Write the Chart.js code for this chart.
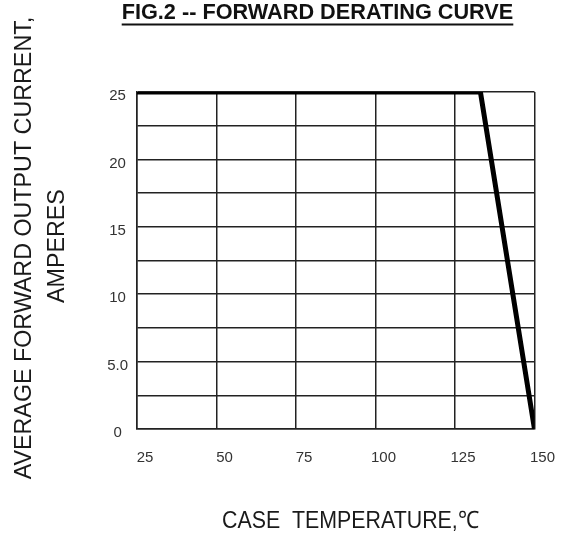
<!DOCTYPE html>
<html>
<head>
<meta charset="utf-8">
<title>Forward Derating Curve</title>
<script src="https://cdn.jsdelivr.net/npm/chart.js@4/dist/chart.umd.min.js"></script>
<style>
    body { margin: 0; background: #fff; }
    canvas { display: block; }
</style>
</head>
<body>
<canvas id="grafico" width="567" height="533"></canvas>
<script>
// Dados
const caseTemp = [25, 133, 150];
const outputCurrent = [25, 25, 0];
const xTicks = [25, 50, 75, 100, 125, 150];
const yTicks = [0, 5, 10, 15, 20, 25];

const titleText = 'FIG.2 -- FORWARD DERATING CURVE';
const yTitle = ['AVERAGE FORWARD OUTPUT CURRENT,', 'AMPERES'];
const xTitle = 'CASE  TEMPERATURE,\u2103';

const sans = "'Liberation Sans', Arial, sans-serif";

document.addEventListener('DOMContentLoaded', () => {
    // Títulos desenhados à mão (sublinhado, fonte estreita, posição fora do centro)
    const titlesPlugin = {
        id: 'titles',
        afterDraw(chart) {
            const ctx = chart.ctx;
            ctx.save();
            ctx.fillStyle = '#111';

            // título principal sublinhado
            ctx.font = 'bold 21.7px ' + sans;
            ctx.textAlign = 'center';
            ctx.textBaseline = 'alphabetic';
            ctx.fillText(titleText, 317.5, 18.5);
            const w = ctx.measureText(titleText).width;
            ctx.fillRect(317.5 - w / 2, 23.5, w, 2);

            // eixo x (levemente comprimido)
            ctx.fillStyle = '#1a1a1a';
            ctx.font = '24px ' + sans;
            ctx.textAlign = 'left';
            ctx.save();
            ctx.translate(222, 528);
            ctx.scale(0.89, 1);
            ctx.fillText(xTitle, 0, 0);
            ctx.restore();

            // eixo y (rotacionado)
            ctx.textAlign = 'center';
            ctx.textBaseline = 'middle';
            ctx.translate(24, 248);
            ctx.rotate(-Math.PI / 2);
            ctx.scale(0.97, 1);
            ctx.fillText(yTitle[0], 0, 0);
            ctx.fillText(yTitle[1], 2, 33);
            ctx.restore();
        }
    };

    new Chart(document.getElementById('grafico'), {
        type: 'line',
        data: {
            datasets: [{
                data: caseTemp.map((t, i) => ({ x: t, y: outputCurrent[i] })),
                borderColor: '#000',
                borderWidth: 5,
                borderJoinStyle: 'miter',
                pointRadius: 0,
                tension: 0,
                fill: false
            }]
        },
        options: {
            responsive: false,
            devicePixelRatio: 1,
            animation: false,
            layout: { padding: { top: 92, left: 0, right: 31, bottom: 0 } },
            plugins: {
                legend: { display: false },
                tooltip: { enabled: false },
                title: { display: false }
            },
            scales: {
                x: {
                    type: 'linear',
                    min: 25,
                    max: 150,
                    afterBuildTicks: s => { s.ticks = xTicks.map(v => ({ value: v })); },
                    afterFit: s => { s.height = 104; },
                    grid: { color: '#222', lineWidth: 1.5, drawTicks: false },
                    border: { color: '#222', width: 1.5 },
                    ticks: {
                        font: { family: sans, size: 15 },
                        color: '#333',
                        padding: 20,
                        labelOffset: 8,
                        maxRotation: 0
                    }
                },
                y: {
                    type: 'linear',
                    min: 0,
                    max: 25,
                    ticks: {
                        stepSize: 2.5,
                        font: { family: sans, size: 15 },
                        color: '#333',
                        padding: 9,
                        crossAlign: 'center',
                        labelOffset: 4,
                        callback: v => yTicks.includes(v) ? (v === 5 ? '5.0' : String(v)) : ''
                    },
                    afterFit: s => { s.width = 137; },
                    grid: { color: '#222', lineWidth: 1.5, drawTicks: false },
                    border: { color: '#222', width: 1.5 }
                }
            }
        },
        plugins: [titlesPlugin]
    });
});
</script>
</body>
</html>
